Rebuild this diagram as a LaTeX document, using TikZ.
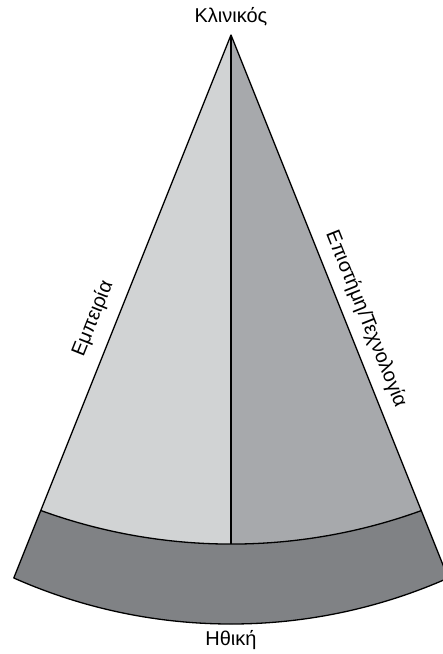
\documentclass[tikz,border=0pt]{standalone}
\usepackage{fontspec}
\setmainfont{Liberation Sans}
\definecolor{lightg}{HTML}{D1D3D4}
\definecolor{midg}{HTML}{A7A9AC}
\definecolor{darkg}{HTML}{808285}
\begin{document}
\begin{tikzpicture}[x=1pt,y=1pt,
  edge/.style={line width=1.3pt, line join=round},
  lbl/.style={font=\fontsize{20}{24}\selectfont, inner sep=0pt}]
\useasboundingbox (0,0) rectangle (443,654);
\begin{scope}
\clip (0,0) rectangle (443,654);
\coordinate (A) at (231,619);
\coordinate (IL) at (40.8,143.5);
\coordinate (IR) at (421.2,143.5);
\coordinate (OL) at (13.8,76);
\coordinate (OR) at (448.2,76);
\coordinate (M) at (231,110);
\fill[lightg] (A) -- (IL) arc[start angle=250, end angle=270, radius=556.7] -- cycle;
\fill[midg] (A) -- (M) arc[start angle=270, end angle=290, radius=556.7] -- cycle;
\fill[darkg] (IL) -- (OL) arc[start angle=246.08, end angle=293.92, radius=535.8] -- (OR) -- (IR) arc[start angle=290, end angle=250, radius=556.7] -- cycle;
\draw[edge] (A) -- (OL) arc[start angle=246.08, end angle=293.92, radius=535.8] -- (OR) -- cycle;
\draw[edge] (IL) arc[start angle=250, end angle=290, radius=556.7];
\draw[edge] (A) -- (M);
\end{scope}
\node[lbl] (top) at (231,637) {Κλινικός};
\node[lbl] (bot) at (231,14) {Ηθική};
\node[lbl, rotate=68.2] (emp) at (93,335) {Εμπειρία};
\node[lbl, rotate=-68.2] (epi) at (366,335) {Επιστήμη/Τεχνολογία};
\end{tikzpicture}
\end{document}
